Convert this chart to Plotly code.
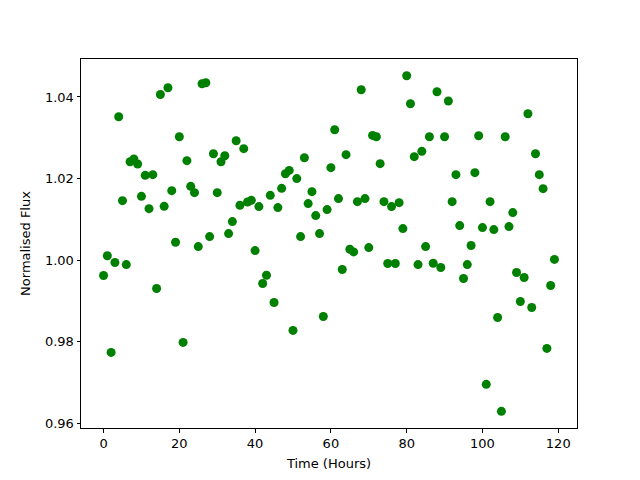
import plotly.graph_objects as go

time_hours = list(range(120))
flux = [
    0.99626, 1.0011, 0.97742, 0.99944, 1.03516, 1.0146, 0.99894, 1.02414, 1.0248, 1.02357,
    1.01566, 1.0208, 1.01264, 1.02097, 0.99307, 1.0406, 1.0132, 1.04225, 1.01705, 1.0044,
    1.03026, 0.97986, 1.0244, 1.0181, 1.01656, 1.00335, 1.04323, 1.04347, 1.0058, 1.0261,
    1.01656, 1.02414, 1.0256, 1.00653, 1.00947, 1.02928, 1.01346, 1.02733, 1.01427, 1.01468,
    1.00237, 1.01314, 0.9943, 0.99633, 1.0159, 0.98965, 1.01289, 1.01761, 1.0212, 1.022,
    0.9828, 1.0200, 1.0058, 1.02512, 1.01387, 1.0168, 1.01093, 1.00653, 0.98622, 1.0124,
    1.02268, 1.03197, 1.0151, 0.99772, 1.02586, 1.00269, 1.00204, 1.01435, 1.04176, 1.0151,
    1.0031, 1.03058, 1.03026, 1.02366, 1.01435, 0.99919, 1.01314, 0.99919, 1.01411, 1.00776,
    1.04519, 1.03834, 1.02537, 0.99894, 1.02667, 1.00335, 1.03026, 0.99927, 1.04127, 0.99821,
    1.03026, 1.03900, 1.01435, 1.02097, 1.00849, 0.99552, 0.99894, 1.0036, 1.02146, 1.03051,
    1.008, 0.96959, 1.01435, 1.00751, 0.98598, 0.96299, 1.03026, 1.00824, 1.01167, 0.9970,
    0.9899, 0.99577, 1.03589, 0.98843, 1.0261, 1.02097, 1.01754, 0.9784, 0.99381, 1.0002,
]
x_ticks = [0, 20, 40, 60, 80, 100, 120]
y_ticks = [0.96, 0.98, 1.00, 1.02, 1.04]

fig = go.Figure(go.Scatter(
    x=time_hours, y=flux, mode="markers",
    marker=dict(color="#008000", size=9, line=dict(width=0)),
))

axis_common = dict(
    showline=True, linecolor="black", linewidth=1, mirror=True,
    ticks="outside", ticklen=3.5, tickwidth=1, tickcolor="black",
    showgrid=False, zeroline=False, automargin=False,
    tickfont=dict(family="DejaVu Sans", size=13, color="black"),
    title_font=dict(family="DejaVu Sans", size=13, color="black"),
)

fig.update_xaxes(range=[-5.95, 124.95], tickvals=x_ticks,
                 ticktext=[str(v) for v in x_ticks],
                 title_text="Time (Hours)", title_standoff=8, **axis_common)
fig.update_yaxes(range=[0.9589, 1.0493], tickvals=y_ticks,
                 ticktext=[f"{v:.2f}" for v in y_ticks],
                 title_text="Normalised Flux", title_standoff=11, **axis_common)

fig.update_layout(
    width=640, height=480,
    margin=dict(l=73, r=71, t=51, b=60),
    plot_bgcolor="white", paper_bgcolor="white",
    showlegend=False,
    font=dict(family="DejaVu Sans", color="black"),
)

fig.write_html("out.html")
